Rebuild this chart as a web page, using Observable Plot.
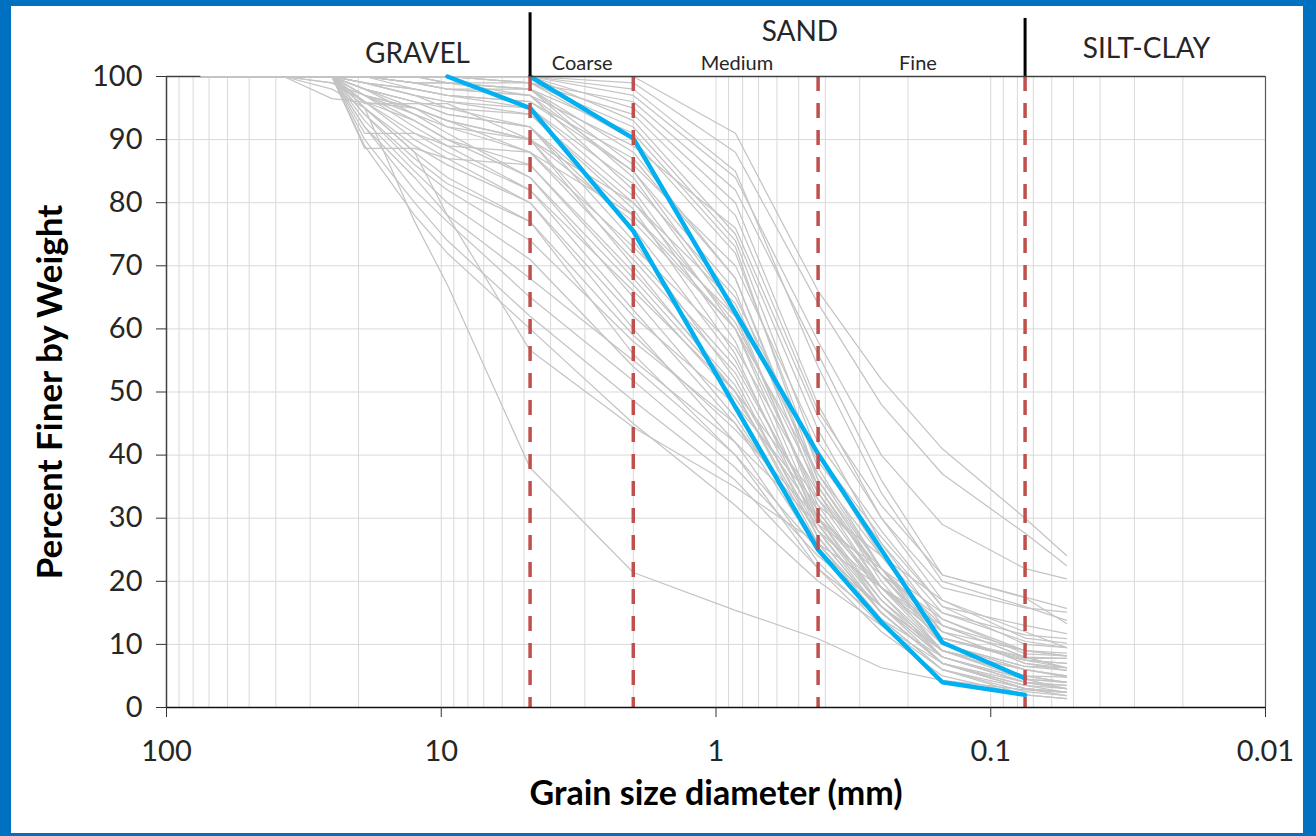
<!DOCTYPE html>
<html>
<head>
<meta charset="utf-8">
<script src="https://cdn.jsdelivr.net/npm/d3@7"></script>
<script src="https://cdn.jsdelivr.net/npm/@observablehq/plot@0.6"></script>
<style>
  html, body { margin: 0; padding: 0; }
  body { width: 1316px; height: 836px; background: #0070C0; position: relative; overflow: hidden; }
  #card { position: absolute; left: 11px; top: 6px; width: 1292px; height: 827px; background: #fff; }
  #card svg { display: block; }
</style>
</head>
<body>
<div id="card"></div>
<script>
// ---- data ----
const sieveSizes = [75, 37.5, 25, 19, 12.5, 9.5, 4.75, 2, 0.85, 0.425, 0.25, 0.15, 0.075, 0.053];

const greySamples = [
  [100,100,100,100,100,100,100,100,91,66,52,41,30,24.1],
  [100,100,100,100,100,100,100,99,88,64,48,37,27.6,22.5],
  [100,100,100,100,100,100,100,97,84,58,40,29,22,20.4],
  [100,100,100,100,100,100,100,95,80,48,30,17,12,9.5],
  [100,100,100,100,100,100,100,93,75,44,26,13,8,6.3],
  [100,100,100,100,100,100,99,96,82,56,36,21,17.5,15.7],
  [100,100,100,100,100,100,99,92,74,40,24,12,7,5.9],
  [100,100,100,100,100,99,99,90,72,38,22,10,6,4.8],
  [100,100,100,100,100,99,98,88,68,35,20,9,5,4],
  [100,100,100,100,99,99,98,86,70,42,28,16,13,11.7],
  [100,100,100,100,99,98,98,84,62,32,18,8,4,3],
  [100,100,100,100,99,98,97,89,76,46,30,19,15.8,15.1],
  [100,100,100,100,99,98,97,85,66,34,19,11,7.5,7],
  [100,100,100,100,100,99,97,82,60,30,16,7,4,3.5],
  [100,100,100,100,100,100,100,98,85,54,34,20,16,13.8],
  [100,100,100,100,100,100,99,94,78,47,32,21,17.4,13.3],
  [100,100,100,100,99,99,98,91,73,36,21,10,6.5,5.9],
  [100,100,100,95.7,95.7,95.7,90,80,64,37,22,11,8,7.8],
  [100,100,96.5,95.9,95,93,88,78,60,33,19,9,6,5],
  [100,100,100,100,98,97,96,87,68,36,22,12,9,8.2],
  [100,100,100,99,98,97,96,85,63,31,18,9,6,5],
  [100,100,100,99,98,97,95,83,65,39,26,15,11.5,10.9],
  [100,100,100,99,97,96,95,81,58,29,16,8,4.5,4],
  [100,100,100,99,97,95,94,80,61,35,21,11,7.5,6.3],
  [100,100,100,99,97,96,94,79,56,28,15,7,3.5,3],
  [100,100,100,98,96,94,92,76,55,30,17,9,5,4.8],
  [100,100,100,98,96,95,92,78,62,40,27,16,10,9.5],
  [100,100,100,98,96,94,92,74,52,27,15,7,3.5,2.4],
  [100,100,100,98,95,93,90,72,54,31,19,10,6.5,6.3],
  [100,100,100,97,95,93,90,77,60,37,24,14,9,8.2],
  [100,100,100,97,95,92,90,70,50,26,14,6,3,2.4],
  [100,100,100,91,91,89,88,73,57,34,21,11,7.5,7],
  [100,100,99,97,94,92,88,71,53,29,17,8,4,3.5],
  [100,100,100,88.6,88.6,87,86,69,51,28,16,8,4.5,4],
  [100,100,99,96,93,90,86,68,50,27,15,7,3,2.4],
  [100,100,100,98,94,91,84,67,49,30,19,11,7.8,7.8],
  [100,100,100,97,93,90,84,65,46,26,15,7,3,1.9],
  [100,100,100,97,92,89,82,66,50,33,22,13,9,8.6],
  [100,100,100,96,91,88,82,63,45,25,14,6,2.5,1.9],
  [100,100,100,96,90,87,80,62,48,32,24,17,11,10.2],
  [100,100,100,95,89,86,80,60,42,23,13,6,2,1.4],
  [100,100,100,95,88,84,77,59,44,30,21,14,8.5,8.2],
  [100,100,100,94,87,83,77,56,40,22,12,5,2,1.4],
  [100,100,100,94,86,82,74,58,45,28,19,12,7,6.3],
  [100,100,100,93,85,80,71,54,40,25,16,9,4.5,3],
  [100,100,100,92,84,78,68,55,42,29,22,15,10.5,9.5],
  [100,100,100,92,82,77,65,51.8,38,24,16,9,5,4],
  [100,100,100,90,80,74,62,48.6,36,22,14,8,4,3],
  [100,100,100,89,78,72,60,45,32,20,13,7,3,2.4],
  [100,100,98,95,88,78,56.6,44.4,34.9,26,19,13,8,6.3],
  [100,100,100,95,77,67,38,21.4,15.4,10.9,6.3,4.3,2.8,2.4]
];

const blueUpperSizes = [4.75, 2, 0.425, 0.15, 0.075];
const blueUpperPct   = [100, 90.2, 40.2, 10.3, 4.6];
const blueLowerSizes = [9.5, 4.75, 2, 0.425, 0.25, 0.15, 0.075];
const blueLowerPct   = [100, 95, 75.5, 25, 13.5, 4, 2];

const subBoundaries  = [4.75, 2, 0.425, 0.075];      // red dashed lines (mm)
const mainBoundaries = [4.75, 0.075];                // black class separators (mm)
const mainBoundaryTop = [110.1, 109.2];              // how far above 100 % they reach

const xTicks = [100, 10, 1, 0.1, 0.01];
const xTickLabels = ["100", "10", "1", "0.1", "0.01"];
const yTicks = [0, 10, 20, 30, 40, 50, 60, 70, 80, 90, 100];

const zoneLabels = [
  {label: "GRAVEL",    d: 12.2,  p: 103.5, size: 28},
  {label: "SAND",      d: 0.495, p: 107.0, size: 28},
  {label: "SILT-CLAY", d: 0.0271,p: 104.4, size: 28},
  {label: "Coarse",    d: 3.07,  p: 102.1, size: 20},
  {label: "Medium",    d: 0.839, p: 102.1, size: 20},
  {label: "Fine",      d: 0.184, p: 102.1, size: 20}
];

// ---- derived tables ----
const minorTicks = [];
for (const dec of [10, 1, 0.1, 0.01]) for (let k = 1; k <= 9; k++) minorTicks.push(+(k * dec).toPrecision(6));
minorTicks.push(100);

const greyRows = greySamples.flatMap((vals, i) => vals.map((v, j) => ({id: i, d: sieveSizes[j], p: v})));
const upperRows = blueUpperSizes.map((d, i) => ({d, p: blueUpperPct[i]}));
const lowerRows = blueLowerSizes.map((d, i) => ({d, p: blueLowerPct[i]}));
const mainRows = mainBoundaries.map((d, i) => ({d, top: mainBoundaryTop[i]}));
const labelMap = new Map(xTicks.map((t, i) => [t, xTickLabels[i]]));

const FONT = "Lato, 'Open Sans', sans-serif";
const INK = "#262626";

const chart = Plot.plot({
  width: 1292,
  height: 827,
  marginLeft: 155,
  marginRight: 38,
  marginTop: 70,
  marginBottom: 126,
  style: {fontFamily: FONT, background: "#fff", overflow: "visible"},
  x: {type: "log", domain: [100, 0.01]},
  y: {domain: [0, 100]},
  marks: [
    Plot.gridX(minorTicks, {stroke: "#d9d9d9", strokeOpacity: 1, strokeWidth: 1}),
    Plot.gridY(yTicks, {stroke: "#d9d9d9", strokeOpacity: 1, strokeWidth: 1}),
    Plot.line(greyRows, {x: "d", y: "p", z: "id", stroke: "#c4c4c4", strokeWidth: 1.25}),
    Plot.line(upperRows, {x: "d", y: "p", stroke: "#00B0F0", strokeWidth: 4.5, strokeLinejoin: "miter"}),
    Plot.line(lowerRows, {x: "d", y: "p", stroke: "#00B0F0", strokeWidth: 4.5, strokeLinejoin: "miter"}),
    Plot.ruleX(subBoundaries, {y1: 100, y2: 0, stroke: "#C0504D", strokeWidth: 3.5, strokeDasharray: "15,12"}),
    Plot.ruleX(mainRows, {x: "d", y1: 100, y2: "top", stroke: "#000", strokeWidth: 3}),
    Plot.ruleY([100], {x1: 4.75, x2: 0.01, stroke: "#404040", strokeWidth: 1.5}),
    Plot.ruleY([100], {x1: 100, x2: 75, stroke: "#404040", strokeWidth: 1.5}),
    Plot.ruleX([0.01], {y1: 0, y2: 100, stroke: "#595959", strokeWidth: 1.2}),
    Plot.ruleX([100], {y1: 0, y2: 100, stroke: "#404040", strokeWidth: 1.5}),
    Plot.ruleY([0], {stroke: "#111", strokeWidth: 1.5}),
    Plot.axisX(xTicks, {
      tickFormat: d => labelMap.get(d), tickSize: 10, tickPadding: 23,
      fontSize: 29, fill: INK, stroke: "#333", label: null
    }),
    Plot.axisY(yTicks, {
      tickSize: 10, tickPadding: 14, fontSize: 29, fill: INK, stroke: "#333", label: null
    }),
    Plot.text(zoneLabels, {x: "d", y: "p", text: "label", fontSize: "size", fill: INK, lineAnchor: "middle"}),
    Plot.text(["Percent Finer by Weight"], {
      frameAnchor: "left", dx: -116, rotate: -90, textAnchor: "middle",
      fontSize: 35, fontWeight: "bold", fill: "#000", lineAnchor: "middle"
    }),
    Plot.text(["Grain size diameter (mm)"], {
      frameAnchor: "bottom", dy: 87, fontSize: 34, fontWeight: "bold", fill: "#000", lineAnchor: "middle"
    })
  ]
});

document.getElementById("card").appendChild(chart);
</script>
</body>
</html>
